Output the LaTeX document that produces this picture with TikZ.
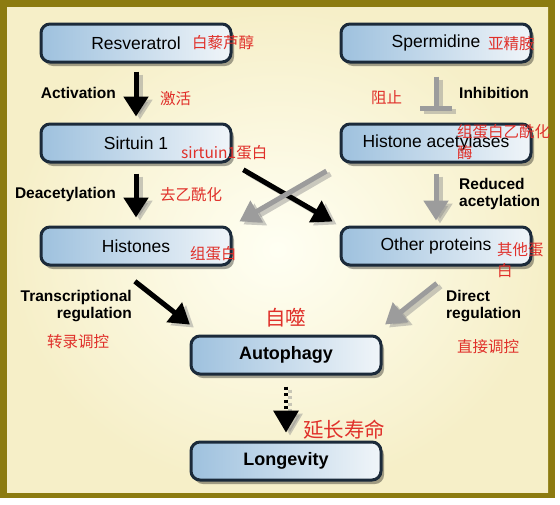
\documentclass[tikz,border=0pt]{standalone}
\usepackage{fontspec}
\setmainfont{Liberation Sans}
\newfontfamily\cjk{Noto Sans CJK SC}
\usetikzlibrary{arrows.meta,shadows}
\definecolor{framec}{HTML}{8C7B10}
\definecolor{bgin}{HTML}{FFFFF3}
\definecolor{bgout}{HTML}{F6EFC8}
\definecolor{boxline}{HTML}{1B2A3A}
\definecolor{boxL}{HTML}{9EC1DE}
\definecolor{boxR}{HTML}{F0F5F9}
\definecolor{redc}{HTML}{E0302A}
\definecolor{arrgray}{HTML}{9C9C9C}
\tikzset{
  box/.style={rectangle, rounded corners=9pt, draw=boxline, line width=3pt,
    left color=boxL, right color=boxR, minimum width=190pt, minimum height=38pt,
    inner sep=0pt, text=black, font=\fontsize{17.5}{20}\selectfont,
    drop shadow={shadow xshift=3pt, shadow yshift=-4pt, fill=black, opacity=0.35}},
  boldbox/.style={box, font=\fontsize{18}{20}\selectfont\bfseries},
  lbl/.style={inner sep=0pt, font=\fontsize{15.5}{17}\selectfont\bfseries},
  redt/.style={inner sep=0pt, text=redc, font=\cjk\fontsize{15.5}{21.5}\selectfont},
  redbig/.style={inner sep=0pt, text=redc, font=\cjk\fontsize{20.5}{24}\selectfont},
  blkarrow/.style={line width=5pt, draw=black, -{Triangle[width=24pt,length=20pt]}},
  gryarrow/.style={line width=5pt, draw=arrgray, -{Triangle[width=24pt,length=20pt]}},
  shadowline/.style={transform canvas={xshift=4pt,yshift=-3pt}, draw=black!45, opacity=0.45}
}
\begin{document}
\begin{tikzpicture}[x=1pt,y=-1pt]
\useasboundingbox (0,0) rectangle (560,504);
\fill[white] (0,0) rectangle (560,504);
\fill[framec] (0,0) rectangle (555,498);
\shade[inner color=bgin, outer color=bgout] (7,7) rectangle (548,492);

% boxes
\node[box] (res) at (136,43) {Resveratrol};
\node[box] (sir) at (136,143) {Sirtuin 1};
\node[box] (his) at (136,246) {Histones};
\node[box] (spe) at (436,43) {Spermidine};
\node[box] (hac) at (436,143) {Histone acetylases};
\node[box] (oth) at (436,246) {Other proteins};
\node[boldbox] (aut) at (286,355) {Autophagy};
\node[boldbox] (lon) at (286,461) {Longevity};

% arrow shadows
\draw[blkarrow, shadowline, shorten <=8pt, shorten >=6pt] (res.south) -- (sir.north);
\draw[blkarrow, shadowline, shorten <=10pt, shorten >=8pt] (sir.south) -- (his.north);
\draw[gryarrow, shadowline, shorten <=10pt, shorten >=5pt] (hac.south) -- (oth.north);
\draw[gryarrow, shadowline, -{Bar[width=32pt]}, shorten <=13pt, shorten >=12pt] (spe.south) -- (hac.north);
\draw[blkarrow, shadowline, shorten <=12.5pt, shorten >=8pt] (sir.south east) -- (oth.north west);
\draw[gryarrow, shadowline, shorten <=15pt, shorten >=8pt] (hac.south west) -- (his.north east);
\draw[blkarrow, shadowline, shorten <=24pt, shorten >=16pt] ([xshift=-20pt]his.south) -- ([xshift=13pt]aut.north west);
\draw[gryarrow, shadowline, shorten <=27pt, shorten >=16pt] ([xshift=22pt]oth.south) -- ([xshift=-10pt]aut.north east);
\draw[shadowline, line width=3.5pt, dash pattern=on 3pt off 3.5pt, -{Triangle[width=25pt,length=22pt]}, shorten <=11pt, shorten >=8pt] (aut.south) -- (lon.north);

% arrows
\draw[blkarrow, shorten <=8pt, shorten >=6pt] (res.south) -- (sir.north);
\draw[blkarrow, shorten <=10pt, shorten >=8pt] (sir.south) -- (his.north);
\draw[gryarrow, shorten <=10pt, shorten >=5pt] (hac.south) -- (oth.north);
\draw[gryarrow, -{Bar[width=32pt]}, shorten <=13pt, shorten >=12pt] (spe.south) -- (hac.north);
\draw[blkarrow, shorten <=12.5pt, shorten >=8pt] (sir.south east) -- (oth.north west);
\draw[gryarrow, shorten <=15pt, shorten >=8pt] (hac.south west) -- (his.north east);
\draw[blkarrow, shorten <=24pt, shorten >=16pt] ([xshift=-20pt]his.south) -- ([xshift=13pt]aut.north west);
\draw[gryarrow, shorten <=27pt, shorten >=16pt] ([xshift=22pt]oth.south) -- ([xshift=-10pt]aut.north east);
\draw[line width=3.5pt, dash pattern=on 3pt off 3.5pt, -{Triangle[width=25pt,length=22pt]}, shorten <=11pt, shorten >=8pt] (aut.south) -- (lon.north);

% black labels
\node[lbl, anchor=east] (lact) at (116,93) {Activation};
\node[lbl, anchor=east] (ldea) at (116,194) {Deacetylation};
\node[lbl, anchor=west] (linh) at (459,93) {Inhibition};
\node[lbl, anchor=west, align=left] (lred) at (459,194) {Reduced\\acetylation};
\node[lbl, anchor=east, align=right] (ltra) at (132,306) {Transcriptional\\regulation};
\node[lbl, anchor=west, align=left] (ldir) at (446,306) {Direct\\regulation};

% red labels
\node[redt, anchor=west] (r1) at (192,43) {白藜芦醇};
\node[redt, anchor=west] (r2) at (160,99) {激活};
\node[redt, anchor=west] (r3) at (181,153) {sirtuin1蛋白};
\node[redt, anchor=west] (r4) at (160,195) {去乙酰化};
\node[redt, anchor=west] (r5) at (190,254) {组蛋白};
\node[redt, anchor=west] (r6) at (371,98) {阻止};
\node[redt, anchor=west] (r7) at (488,44) {亚精胺};
\node[redt, anchor=west, align=left] (r8) at (457,142) {组蛋白乙酰化\\酶};
\node[redt, anchor=west, align=left] (r9) at (497,260) {其他蛋\\白};
\node[redt, anchor=west] (r10) at (47,342) {转录调控};
\node[redt, anchor=west] (r11) at (457,347) {直接调控};
\node[redbig, anchor=west] (r12) at (265,318) {自噬};
\node[redbig, anchor=west] (r13) at (303,430) {延长寿命};
\end{tikzpicture}
\end{document}
